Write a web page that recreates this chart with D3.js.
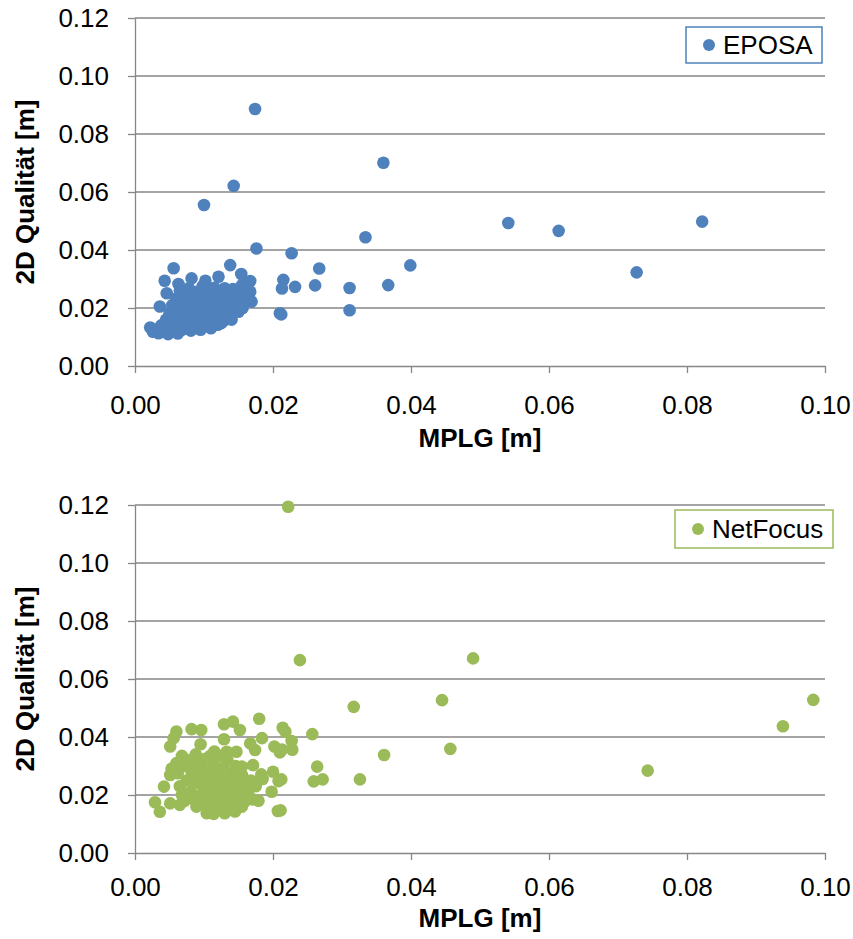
<!DOCTYPE html>
<html>
<head>
<meta charset="utf-8">
<script src="https://cdn.jsdelivr.net/npm/d3@7"></script>
<style>
  body { margin: 0; background: #fff; }
  svg text { font-family: Arial, "Liberation Sans", sans-serif; fill: #000; }
  .axis path, .axis line { stroke: #868686; stroke-width: 1.3; }
  .grid line { stroke: #868686; stroke-width: 1.3; }
</style>
</head>
<body>
<div id="chart"></div>
<script>
// tick values for both panels
var xTicks = [0, 0.02, 0.04, 0.06, 0.08, 0.10];
var yTicks = [0, 0.02, 0.04, 0.06, 0.08, 0.10, 0.12];

var xLabel = "MPLG [m]";
var yLabel = "2D Qualität [m]";

// EPOSA: [MPLG, 2D Qualität]
var eposaPoints = [
  [0.0174,0.0886],[0.0143,0.0621],[0.0100,0.0555],[0.0360,0.0701],[0.0334,0.0444],
  [0.0541,0.0493],[0.0614,0.0466],[0.0822,0.0498],[0.0727,0.0323],[0.0399,0.0347],
  [0.0176,0.0405],[0.0227,0.0389],[0.0267,0.0336],[0.0261,0.0278],[0.0311,0.0269],
  [0.0367,0.0279],[0.0311,0.0192],[0.0212,0.0178],[0.0215,0.0297],[0.0213,0.0267],
  [0.0232,0.0273],[0.0210,0.0182],
  [0.0056,0.0337],[0.0043,0.0294],[0.0063,0.0283],[0.0082,0.0302],[0.0102,0.0294],
  [0.0121,0.0308],[0.0138,0.0348],[0.0154,0.0317],[0.0167,0.0293],[0.0155,0.0279],
  [0.0167,0.0256],[0.0169,0.0222],[0.0147,0.0228],[0.0150,0.0187],[0.0133,0.0164],
  [0.0022,0.0133],[0.0034,0.0113],[0.0036,0.0205],[0.0046,0.0251],
  [0.0030,0.0125],[0.0038,0.0140],[0.0041,0.0118],[0.0045,0.0160],[0.0048,0.0128],
  [0.0050,0.0182],[0.0052,0.0145],[0.0054,0.0210],[0.0057,0.0120],[0.0058,0.0165],
  [0.0060,0.0233],[0.0061,0.0138],[0.0063,0.0190],[0.0065,0.0260],[0.0066,0.0152],
  [0.0068,0.0125],[0.0070,0.0215],[0.0071,0.0175],[0.0073,0.0245],[0.0075,0.0140],
  [0.0077,0.0198],[0.0078,0.0268],[0.0080,0.0158],[0.0081,0.0122],[0.0083,0.0228],
  [0.0085,0.0185],[0.0086,0.0140],[0.0088,0.0255],[0.0090,0.0168],[0.0091,0.0205],
  [0.0093,0.0130],[0.0095,0.0240],[0.0096,0.0150],[0.0098,0.0275],[0.0100,0.0190],
  [0.0101,0.0160],[0.0103,0.0222],[0.0105,0.0138],[0.0107,0.0255],[0.0108,0.0178],
  [0.0110,0.0205],[0.0112,0.0150],[0.0114,0.0235],[0.0115,0.0270],[0.0117,0.0165],
  [0.0119,0.0195],[0.0120,0.0142],[0.0122,0.0250],[0.0124,0.0215],[0.0126,0.0175],
  [0.0128,0.0155],[0.0130,0.0268],[0.0132,0.0230],[0.0134,0.0195],[0.0136,0.0250],
  [0.0138,0.0175],[0.0140,0.0212],[0.0142,0.0265],[0.0144,0.0190],[0.0146,0.0240],
  [0.0148,0.0205],[0.0152,0.0245],[0.0156,0.0200],[0.0160,0.0232],[0.0163,0.0270],
  [0.0140,0.0160],[0.0125,0.0148],[0.0110,0.0130],[0.0095,0.0125],[0.0062,0.0112],
  [0.0048,0.0110],[0.0026,0.0118]
];

// NetFocus: [MPLG, 2D Qualität]
var netfocusPoints = [
  [0.0222,0.1194],[0.0239,0.0665],[0.0490,0.0671],[0.0445,0.0527],[0.0317,0.0504],
  [0.0983,0.0528],[0.0939,0.0437],[0.0743,0.0284],[0.0457,0.0359],[0.0361,0.0338],
  [0.0326,0.0254],[0.0257,0.0410],[0.0214,0.0432],[0.0218,0.0418],[0.0227,0.0386],
  [0.0228,0.0356],[0.0213,0.0357],[0.0264,0.0298],[0.0259,0.0247],[0.0272,0.0254],
  [0.0212,0.0254],[0.0211,0.0147],
  [0.0180,0.0463],[0.0129,0.0444],[0.0142,0.0453],[0.0152,0.0424],[0.0082,0.0427],
  [0.0096,0.0424],[0.0060,0.0419],[0.0056,0.0396],[0.0051,0.0367],[0.0095,0.0375],
  [0.0129,0.0392],[0.0167,0.0378],[0.0184,0.0396],[0.0174,0.0355],[0.0202,0.0367],
  [0.0210,0.0347],[0.0147,0.0349],[0.0133,0.0349],[0.0068,0.0335],[0.0109,0.0335],
  [0.0053,0.0291],[0.0051,0.0269],[0.0042,0.0229],[0.0155,0.0298],[0.0171,0.0303],
  [0.0183,0.0271],[0.0200,0.0280],[0.0208,0.0248],[0.0198,0.0211],[0.0179,0.0180],
  [0.0164,0.0202],[0.0207,0.0145],[0.0029,0.0175],[0.0036,0.0142],[0.0051,0.0171],
  [0.0065,0.0166],[0.0104,0.0137],[0.0089,0.0160],[0.0155,0.0269],[0.0145,0.0143],
  [0.0130,0.0137],[0.0118,0.0148],
  [0.0070,0.0300],[0.0075,0.0250],[0.0078,0.0320],[0.0080,0.0210],[0.0082,0.0280],
  [0.0085,0.0185],[0.0087,0.0240],[0.0090,0.0310],[0.0092,0.0265],[0.0094,0.0200],
  [0.0096,0.0170],[0.0098,0.0290],[0.0100,0.0230],[0.0102,0.0325],[0.0104,0.0190],
  [0.0106,0.0255],[0.0108,0.0160],[0.0110,0.0280],[0.0112,0.0215],[0.0114,0.0305],
  [0.0116,0.0175],[0.0118,0.0240],[0.0120,0.0200],[0.0122,0.0270],[0.0124,0.0155],
  [0.0126,0.0225],[0.0128,0.0295],[0.0130,0.0185],[0.0132,0.0250],[0.0134,0.0320],
  [0.0136,0.0165],[0.0138,0.0210],[0.0140,0.0275],[0.0142,0.0235],[0.0144,0.0180],
  [0.0146,0.0300],[0.0148,0.0155],[0.0150,0.0220],[0.0152,0.0255],[0.0154,0.0190],
  [0.0158,0.0175],[0.0160,0.0240],[0.0162,0.0215],[0.0072,0.0180],[0.0065,0.0230],
  [0.0062,0.0275],[0.0060,0.0310],[0.0068,0.0200],[0.0088,0.0340],[0.0115,0.0350],
  [0.0125,0.0335],[0.0106,0.0145],[0.0114,0.0135],[0.0140,0.0150],[0.0155,0.0160],
  [0.0170,0.0185],[0.0168,0.0250],[0.0175,0.0230],[0.0185,0.0255]
];

var width = 853, height = 939;

var svg = d3.select("#chart").append("svg")
  .attr("width", width)
  .attr("height", height);

var x = d3.scaleLinear().domain([0, 0.10]).range([135, 825]);

function drawPanel(opts) {
  var y = d3.scaleLinear().domain([0, 0.12]).range([opts.bottom, opts.top]);
  var g = svg.append("g");

  // horizontal gridlines
  g.append("g").attr("class", "grid")
    .selectAll("line")
    .data(yTicks.slice(1))
  .enter().append("line")
    .attr("x1", x(0))
    .attr("x2", x(0.10))
    .attr("y1", d => y(d))
    .attr("y2", d => y(d));

  let yAxis = d3.axisLeft(y)
    .tickValues(yTicks)
    .tickFormat(d3.format(".2f"))
    .tickSize(7)
    .tickSizeOuter(0)
    .tickPadding(19);

  let gy = g.append("g")
    .attr("class", "axis")
    .attr("transform", "translate(" + x(0) + ",0)")
    .call(yAxis);
  gy.selectAll("text").style("font-size", "26px");

  let xAxis = d3.axisBottom(x)
    .tickValues(xTicks)
    .tickFormat(d3.format(".2f"))
    .tickSize(7)
    .tickSizeOuter(0)
    .tickPadding(opts.xPad);

  let gx = g.append("g")
    .attr("class", "axis")
    .attr("transform", "translate(0," + opts.bottom + ")")
    .call(xAxis);
  gx.selectAll("text").style("font-size", "26px");

  // axis titles
  g.append("text")
    .attr("x", (x(0) + x(0.10)) / 2)
    .attr("y", opts.titleY)
    .attr("text-anchor", "middle")
    .style("font-size", "26px")
    .style("font-weight", "bold")
    .text(xLabel);

  g.append("text")
    .attr("transform", "translate(34," + ((opts.top + opts.bottom) / 2) + ") rotate(-90)")
    .attr("text-anchor", "middle")
    .style("font-size", "26px")
    .style("font-weight", "bold")
    .text(yLabel);

  // points
  g.append("g")
    .selectAll("circle")
    .data(opts.data)
  .enter().append("circle")
    .attr("cx", d => x(d[0]))
    .attr("cy", d => y(d[1]))
    .attr("r", 6.3)
    .attr("fill", opts.color);

  // legend
  let lg = g.append("g").attr("transform", "translate(" + opts.legend[0] + "," + opts.legend[1] + ")");
  lg.append("rect")
    .attr("width", opts.legend[2])
    .attr("height", opts.legend[3])
    .attr("fill", "#fff")
    .attr("stroke", opts.color)
    .attr("stroke-width", 1.5);
  lg.append("circle")
    .attr("cx", 23)
    .attr("cy", opts.legend[3] / 2)
    .attr("r", 6)
    .attr("fill", opts.color);
  lg.append("text")
    .attr("x", 37)
    .attr("y", opts.legend[3] / 2)
    .attr("dy", "0.36em")
    .style("font-size", "26px")
    .text(opts.name);
}

drawPanel({
  data: eposaPoints, name: "EPOSA", color: "#4F81BD",
  top: 18, bottom: 366, xPad: 23, titleY: 447,
  legend: [686, 27, 136, 36]
});

drawPanel({
  data: netfocusPoints, name: "NetFocus", color: "#9BBB59",
  top: 505, bottom: 853, xPad: 18, titleY: 927,
  legend: [675, 510, 158, 38]
});
</script>
</body>
</html>
